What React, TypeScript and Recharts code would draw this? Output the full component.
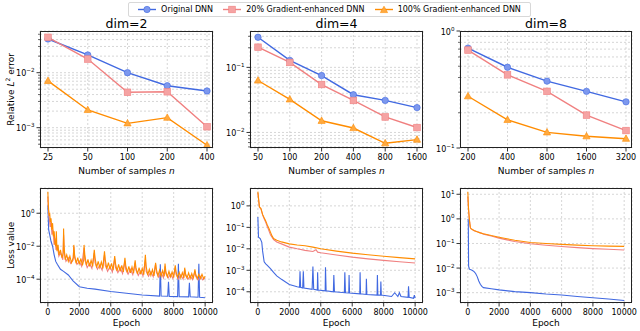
import React from "react";
import { LineChart, Line, XAxis, YAxis, CartesianGrid } from "recharts";

const BLUE = "#4169e1";
const PINK = "#f08080";
const ORANGE = "#ff8c00";
const FONT = "'DejaVu Sans', sans-serif";

// top row: relative L2 error against number of samples
const samplesDim2 = [25, 50, 100, 200, 400];
const origDim2 = [0.041, 0.021, 0.01, 0.0058, 0.00465];
const g20Dim2 = [0.044, 0.0177, 0.0044, 0.0045, 0.00104];
const g100Dim2 = [0.0071, 0.0021, 0.0012, 0.00152, 0.00048];

const samplesDim4 = [50, 100, 200, 400, 800, 1600];
const origDim4 = [0.29, 0.128, 0.0748, 0.038, 0.0311, 0.0241];
const g20Dim4 = [0.204, 0.119, 0.0545, 0.031, 0.0173, 0.0119];
const g100Dim4 = [0.0628, 0.0322, 0.0151, 0.0117, 0.00682, 0.00776];

const samplesDim8 = [200, 400, 800, 1600, 3200];
const origDim8 = [0.714, 0.49, 0.373, 0.305, 0.248];
const g20Dim8 = [0.687, 0.422, 0.305, 0.191, 0.141];
const g100Dim8 = [0.277, 0.174, 0.136, 0.126, 0.12];

// bottom row: loss value against epoch, [epoch, loss]
const lossOrigDim2 = [
  [0, 3], [50, 0.1], [100, 0.06], [200, 0.02], [300, 0.01], [400, 0.003], [500, 0.0012],
  [600, 0.0008], [800, 0.0004], [1000, 0.0003], [1300, 0.00018], [1600, 0.00008],
  [2000, 0.000035], [2500, 0.000028], [3000, 0.000025], [4000, 0.000018], [5000, 0.000014],
  [6000, 0.000011], [7100, 0.0000095], [7150, 0.00081], [7200, 0.0000095], [7620, 0.0000092],
  [7670, 0.00007], [7720, 0.000009], [8250, 0.0000088], [8300, 0.00085], [8350, 0.0000088],
  [8950, 0.0000085], [9000, 0.00006], [9050, 0.0000085], [9550, 0.000008], [9600, 0.00085],
  [9650, 0.000008], [10000, 0.0000075],
];
const lossG20Dim2 = [
  [0, 10], [30, 2], [80, 0.6], [150, 0.15], [200, 0.3], [260, 0.05], [320, 0.1], [400, 0.012],
  [450, 0.03], [520, 0.006], [600, 0.01], [700, 0.0025], [800, 0.004], [950, 0.0015], [1000, 0.05],
  [1050, 0.004], [1150, 0.0012], [1300, 0.002], [1450, 0.0009], [1600, 0.0014], [1650, 0.01],
  [1700, 0.002], [1850, 0.0008], [2000, 0.0012], [2150, 0.0006], [2300, 0.008], [2350, 0.0015],
  [2500, 0.0005], [2650, 0.0009], [2800, 0.00045], [2950, 0.004], [3000, 0.001], [3150, 0.0004],
  [3300, 0.0007], [3450, 0.00035], [3600, 0.003], [3650, 0.0007], [3800, 0.0003], [3950, 0.0006],
  [4100, 0.00027], [4250, 0.0018], [4300, 0.0005], [4450, 0.00025], [4600, 0.0005], [4750, 0.00022],
  [4900, 0.0013], [4950, 0.0004], [5100, 0.0002], [5250, 0.0004], [5400, 0.00019], [5550, 0.001],
  [5600, 0.00035], [5750, 0.00017], [5900, 0.00032], [6050, 0.00016], [6200, 0.0015], [6250, 0.0003],
  [6400, 0.00015], [6550, 0.00028], [6700, 0.00014], [6850, 0.0008], [6900, 0.00026], [7050, 0.00013],
  [7200, 0.00025], [7350, 0.00012], [7450, 0.0006], [7500, 0.00022], [7650, 0.00012], [7800, 0.0002],
  [7950, 0.00011], [8100, 0.0005], [8150, 0.0002], [8300, 0.0001], [8450, 0.00018], [8600, 0.0001],
  [8700, 0.0004], [8750, 0.00017], [8900, 0.0001], [9050, 0.00016], [9200, 0.000095], [9350, 0.0003],
  [9400, 0.00015], [9550, 0.00009], [9700, 0.00015], [9850, 0.00009], [10000, 0.00012],
];
const lossG100Dim2 = [
  [0, 20], [20, 5], [50, 1.5], [80, 0.8], [120, 0.9], [160, 0.3], [200, 0.5], [250, 0.1], [300, 0.25],
  [350, 0.04], [400, 0.08], [450, 0.015], [500, 0.01], [540, 0.08], [580, 0.005], [650, 0.012],
  [700, 0.003], [800, 0.006], [900, 0.002], [980, 0.004], [1000, 0.12], [1030, 0.01], [1100, 0.0015],
  [1200, 0.003], [1300, 0.0012], [1400, 0.0025], [1500, 0.001], [1620, 0.002], [1650, 0.012],
  [1700, 0.003], [1800, 0.0009], [1900, 0.002], [2000, 0.0008], [2100, 0.0018], [2200, 0.0007],
  [2280, 0.0015], [2300, 0.012], [2350, 0.003], [2450, 0.0007], [2550, 0.0016], [2650, 0.0006],
  [2750, 0.0014], [2850, 0.0006], [2950, 0.006], [3000, 0.002], [3100, 0.0005], [3200, 0.0012],
  [3300, 0.0005], [3400, 0.0011], [3500, 0.00045], [3600, 0.005], [3650, 0.0015], [3750, 0.00042],
  [3850, 0.001], [3950, 0.0004], [4050, 0.0009], [4150, 0.00035], [4250, 0.0025], [4300, 0.0009],
  [4400, 0.00032], [4500, 0.0008], [4600, 0.0003], [4700, 0.0007], [4800, 0.00028], [4900, 0.002],
  [4950, 0.0007], [5050, 0.00026], [5150, 0.0006], [5250, 0.00024], [5350, 0.00055], [5450, 0.00023],
  [5550, 0.0014], [5600, 0.0005], [5700, 0.00021], [5800, 0.0005], [5900, 0.0002], [6000, 0.00045],
  [6100, 0.00019], [6200, 0.003], [6250, 0.0006], [6350, 0.00018], [6450, 0.0004], [6550, 0.00017],
  [6650, 0.00038], [6750, 0.00016], [6850, 0.001], [6900, 0.0004], [7000, 0.00016], [7100, 0.00035],
  [7200, 0.00015], [7300, 0.00033], [7400, 0.00015], [7450, 0.0009], [7500, 0.0003], [7600, 0.00014],
  [7700, 0.0003], [7800, 0.00014], [7900, 0.00028], [8000, 0.00013], [8100, 0.0007], [8150, 0.00028],
  [8250, 0.00013], [8350, 0.00026], [8450, 0.00012], [8550, 0.00025], [8650, 0.00012], [8700, 0.0005],
  [8750, 0.00022], [8850, 0.00012], [8950, 0.00024], [9050, 0.00011], [9150, 0.00022], [9250, 0.00011],
  [9350, 0.0004], [9400, 0.0002], [9500, 0.00011], [9600, 0.0002], [9700, 0.00011], [9800, 0.0002],
  [9900, 0.00011], [10000, 0.00015],
];

const lossOrigDim4 = [
  [0, 0.3], [40, 0.035], [150, 0.03], [250, 0.02], [300, 0.008], [400, 0.0025], [500, 0.002],
  [600, 0.0017], [800, 0.0012], [1000, 0.0008], [1200, 0.00055], [1500, 0.00038], [2000, 0.00022],
  [2500, 0.00017], [2650, 0.00016], [2680, 0.0009], [2720, 0.00016], [2850, 0.00015], [2890, 0.0009],
  [2930, 0.00015], [3450, 0.00013], [3500, 0.0015], [3550, 0.00013], [3780, 0.00012], [3800, 0.0008],
  [3830, 0.00012], [4280, 0.00011], [4300, 0.0014], [4340, 0.00011], [4800, 0.0001], [4830, 0.0006],
  [4870, 0.0001], [5500, 0.00009], [5530, 0.0008], [5570, 0.00009], [5780, 0.000088], [5800, 0.0006],
  [5830, 0.000088], [6480, 0.00008], [6500, 0.0008], [6530, 0.00008], [6880, 0.000075], [6900, 0.0004],
  [6930, 0.000075], [7580, 0.00007], [7600, 0.0006], [7630, 0.00007], [7800, 0.00007], [7820, 0.0003],
  [7850, 0.00007], [8500, 0.00006], [8700, 0.00009], [8900, 0.00006], [9000, 0.00009], [9100, 0.00006],
  [9550, 0.000055], [9580, 0.00018], [9620, 0.000055], [9900, 0.00005], [9950, 0.00007], [10000, 0.00005],
];
const lossG20Dim4 = [
  [0, 4], [50, 1.8], [100, 0.85], [200, 0.7], [300, 0.38], [400, 0.25], [500, 0.17], [600, 0.11],
  [700, 0.07], [800, 0.045], [900, 0.035], [1000, 0.027], [1200, 0.021], [1500, 0.017], [2000, 0.012],
  [2500, 0.01], [3000, 0.0085], [3500, 0.0075], [3700, 0.009], [3800, 0.007], [4000, 0.0066],
  [5000, 0.0052], [6000, 0.0041], [7000, 0.0034], [8000, 0.0029], [9000, 0.0025], [10000, 0.0022],
];
const lossG100Dim4 = [
  [0, 4.6], [50, 2], [100, 0.9], [200, 0.75], [300, 0.4], [400, 0.28], [500, 0.2], [600, 0.13],
  [700, 0.09], [800, 0.06], [900, 0.04], [1000, 0.03], [1200, 0.025], [1500, 0.021], [2000, 0.017],
  [2500, 0.015], [3000, 0.014], [3500, 0.012], [4000, 0.01], [5000, 0.0078], [6000, 0.0063],
  [7000, 0.0053], [8000, 0.0045], [9000, 0.0039], [10000, 0.0034],
];

const lossOrigDim8 = [
  [0, 1.0], [30, 0.9], [50, 0.012], [100, 0.009], [200, 0.0085], [300, 0.008], [400, 0.0072],
  [500, 0.006], [600, 0.0045], [700, 0.003], [800, 0.0022], [900, 0.0018], [1000, 0.0016],
  [1500, 0.00145], [2000, 0.0013], [3000, 0.0011], [4000, 0.001], [5000, 0.00088], [6000, 0.0008],
  [7000, 0.0007], [8000, 0.00062], [9000, 0.00055], [10000, 0.00048],
];
const lossG20Dim8 = [
  [0, 8], [40, 2.5], [80, 1.2], [120, 0.7], [160, 0.45], [200, 0.4], [400, 0.33], [600, 0.3],
  [800, 0.27], [1000, 0.24], [1500, 0.2], [2000, 0.165], [2500, 0.14], [3000, 0.12], [4000, 0.098],
  [5000, 0.085], [6000, 0.075], [7000, 0.068], [8000, 0.062], [9000, 0.058], [10000, 0.054],
];
const lossG100Dim8 = [
  [0, 12.6], [40, 3], [80, 1.4], [120, 0.7], [160, 0.45], [200, 0.4], [400, 0.34], [600, 0.3],
  [800, 0.27], [1000, 0.25], [1500, 0.21], [2000, 0.18], [2500, 0.155], [3000, 0.135], [4000, 0.11],
  [5000, 0.1], [6000, 0.092], [7000, 0.086], [8000, 0.081], [9000, 0.078], [10000, 0.076],
];

const epochTicks = [0, 2000, 4000, 6000, 8000, 10000];

const toRows = (n: number[], a: number[], b: number[], c: number[]) =>
  n.map((v, i) => ({ n: String(v), orig: a[i], g20: b[i], g100: c[i] }));
const toPts = (arr: number[][]) => arr.map(([e, v]) => ({ e, v }));

const decadeTicks = (lo: number, hi: number, minor: boolean) => {
  const out: number[] = [];
  for (let k = Math.floor(Math.log10(lo)); k <= Math.ceil(Math.log10(hi)); k++) {
    const steps = minor ? [1, 2, 3, 4, 5, 6, 7, 8, 9] : [1];
    steps.forEach((m) => {
      const v = +(m * Math.pow(10, k)).toPrecision(3);
      if (v >= lo * 0.999 && v <= hi * 1.001) out.push(v);
    });
  }
  return out;
};

function LogTick(props: any) {
  const { x, y, payload } = props;
  const lg = Math.log10(payload.value);
  const e = Math.round(lg);
  const major = Math.abs(lg - e) < 1e-6;
  const ax = x + 5.5;
  return (
    <g>
      <line x1={ax - (major ? 3.5 : 2)} x2={ax} y1={y} y2={y} stroke="#000" strokeWidth={major ? 0.8 : 0.6} />
      {major && (
        <text x={x} y={y + 3.5} textAnchor="end" fontSize={8} fill="#000" fontFamily={FONT}>
          10
          <tspan dy={-4} fontSize={5.6}>{e < 0 ? `\u2212${-e}` : `${e}`}</tspan>
        </text>
      )}
    </g>
  );
}

const circleDot = (p: any) => (
  <circle key={`c${p.index}`} cx={p.cx} cy={p.cy} r={3.2} fill="#7d98ee" stroke={BLUE} strokeWidth={0.6} />
);
const squareDot = (p: any) => (
  <rect key={`s${p.index}`} x={p.cx - 3.3} y={p.cy - 3.3} width={6.6} height={6.6} fill="#f5a3a3" stroke={PINK} strokeWidth={0.6} />
);
const triDot = (p: any) => (
  <path key={`t${p.index}`} d={`M${p.cx},${p.cy - 3.8}L${p.cx + 3.6},${p.cy + 2.6}L${p.cx - 3.6},${p.cy + 2.6}Z`} fill="#ffaa40" stroke={ORANGE} strokeWidth={0.6} />
);

const YW = 40;
const MT = 4;
const MR = 6;
const XH = 24;

function Frame({ w, h }: { w: number; h: number }) {
  return (
    <div
      style={{
        position: "absolute", left: YW, top: MT, width: w, height: h,
        border: "1px solid #222", boxSizing: "border-box", pointerEvents: "none",
      }}
    />
  );
}

function ErrorPanel({ x, y, w, h, rows, domain, ticks }: any) {
  return (
    <div style={{ position: "absolute", left: x - YW, top: y - MT }}>
      <LineChart width={w + YW + MR} height={h + MT + XH} data={rows} margin={{ top: MT, right: MR, bottom: 0, left: 0 }}>
        <CartesianGrid stroke="#c4c4c4" strokeDasharray="2 2" strokeWidth={0.7} />
        <XAxis
          dataKey="n" type="category" padding={{ left: 8, right: 6 }} height={XH} interval={0}
          tick={{ fontSize: 8, fill: "#000", fontFamily: FONT }} tickLine={{ stroke: "#000", strokeWidth: 0.8 }}
          tickSize={3.5} tickMargin={3} axisLine={false}
        />
        <YAxis
          type="number" scale="log" domain={domain} allowDataOverflow ticks={ticks} width={YW} interval={0}
          tick={<LogTick />} tickSize={3.5} tickMargin={2} tickLine={false} axisLine={false}
        />
        <Line dataKey="orig" stroke={BLUE} strokeWidth={1.4} dot={circleDot} isAnimationActive={false} />
        <Line dataKey="g20" stroke={PINK} strokeWidth={1.4} dot={squareDot} isAnimationActive={false} />
        <Line dataKey="g100" stroke={ORANGE} strokeWidth={1.4} dot={triDot} isAnimationActive={false} />
      </LineChart>
      <Frame w={w} h={h} />
    </div>
  );
}

function LossPanel({ x, y, w, h, orig, g20, g100, domain, ticks }: any) {
  return (
    <div style={{ position: "absolute", left: x - YW, top: y - MT }}>
      <LineChart width={w + YW + MR} height={h + MT + XH} margin={{ top: MT, right: MR, bottom: 0, left: 0 }}>
        <CartesianGrid stroke="#c4c4c4" strokeDasharray="2 2" strokeWidth={0.7} />
        <XAxis
          dataKey="e" type="number" domain={[-500, 10500]} allowDataOverflow ticks={epochTicks} height={XH} interval={0}
          tick={{ fontSize: 8, fill: "#000", fontFamily: FONT }} tickLine={{ stroke: "#000", strokeWidth: 0.8 }}
          tickSize={3.5} tickMargin={3} axisLine={false}
        />
        <YAxis
          type="number" scale="log" domain={domain} allowDataOverflow ticks={ticks} width={YW} interval={0}
          tick={<LogTick />} tickSize={3.5} tickMargin={2} tickLine={false} axisLine={false}
        />
        <Line data={toPts(orig)} dataKey="v" stroke={BLUE} strokeWidth={1.1} dot={false} isAnimationActive={false} />
        <Line data={toPts(g20)} dataKey="v" stroke={PINK} strokeWidth={1.1} dot={false} isAnimationActive={false} />
        <Line data={toPts(g100)} dataKey="v" stroke={ORANGE} strokeWidth={1.1} dot={false} isAnimationActive={false} />
      </LineChart>
      <Frame w={w} h={h} />
    </div>
  );
}

function Caption({ cx, cy, size, children }: any) {
  return (
    <div
      style={{
        position: "absolute", left: cx - 100, top: cy - size * 0.6, width: 200, textAlign: "center",
        fontSize: size, lineHeight: `${size * 1.2}px`, whiteSpace: "nowrap",
      }}
    >
      {children}
    </div>
  );
}

function VCaption({ cx, cy, size, children }: any) {
  return (
    <div
      style={{
        position: "absolute", left: cx - 100, top: cy - size * 0.6, width: 200, textAlign: "center",
        fontSize: size, lineHeight: `${size * 1.2}px`, whiteSpace: "nowrap", transform: "rotate(-90deg)",
      }}
    >
      {children}
    </div>
  );
}

function LegendIcon({ color, marker }: { color: string; marker: string }) {
  return (
    <svg width={18} height={9} style={{ marginRight: 5 }}>
      <line x1={0} x2={18} y1={4.5} y2={4.5} stroke={color} strokeWidth={1.4} />
      {marker === "c" && circleDot({ cx: 9, cy: 4.5, index: 0 })}
      {marker === "s" && squareDot({ cx: 9, cy: 4.5, index: 0 })}
      {marker === "t" && triDot({ cx: 9, cy: 5, index: 0 })}
    </svg>
  );
}

const legendItems = [
  { label: "Original DNN", color: BLUE, marker: "c" },
  { label: "20% Gradient-enhanced DNN", color: PINK, marker: "s" },
  { label: "100% Gradient-enhanced DNN", color: ORANGE, marker: "t" },
];

const cols = [
  { x: 40, w: 173 },
  { x: 250, w: 173 },
  { x: 460, w: 172 },
];
const TOP_Y = 31;
const TOP_H = 117;
const BOT_Y = 188;
const BOT_H = 115;

export default function App() {
  const samplesLabel = (
    <span>
      Number of samples <i>n</i>
    </span>
  );
  return (
    <div style={{ position: "absolute", left: 0, top: 0, width: 640, height: 331, background: "#fff", fontFamily: FONT, color: "#000" }}>
      <div
        style={{
          position: "absolute", left: 128, top: 2, width: 403, height: 15, boxSizing: "border-box",
          border: "1px solid #d8d8d8", borderRadius: 2, display: "flex", alignItems: "center",
          justifyContent: "space-around", fontSize: 8, padding: "0 4px",
        }}
      >
        {legendItems.map((it) => (
          <div key={it.label} style={{ display: "flex", alignItems: "center" }}>
            <LegendIcon color={it.color} marker={it.marker} />
            <span>{it.label}</span>
          </div>
        ))}
      </div>

      {["dim=2", "dim=4", "dim=8"].map((t, i) => (
        <Caption key={t} cx={cols[i].x + cols[i].w / 2} cy={23} size={12.5}>{t}</Caption>
      ))}

      <ErrorPanel x={cols[0].x} y={TOP_Y} w={cols[0].w} h={TOP_H} rows={toRows(samplesDim2, origDim2, g20Dim2, g100Dim2)}
        domain={[0.000427, 0.0573]} ticks={decadeTicks(0.000427, 0.0573, true)} />
      <ErrorPanel x={cols[1].x} y={TOP_Y} w={cols[1].w} h={TOP_H} rows={toRows(samplesDim4, origDim4, g20Dim4, g100Dim4)}
        domain={[0.00577, 0.362]} ticks={decadeTicks(0.00577, 0.362, true)} />
      <ErrorPanel x={cols[2].x} y={TOP_Y} w={cols[2].w} h={TOP_H} rows={toRows(samplesDim8, origDim8, g20Dim8, g100Dim8)}
        domain={[0.1, 1]} ticks={decadeTicks(0.1, 1, true)} />

      <LossPanel x={cols[0].x} y={BOT_Y} w={cols[0].w} h={BOT_H} orig={lossOrigDim2} g20={lossG20Dim2} g100={lossG100Dim2}
        domain={[3.6e-6, 34]} ticks={[1, 1e-2, 1e-4]} />
      <LossPanel x={cols[1].x} y={BOT_Y} w={cols[1].w} h={BOT_H} orig={lossOrigDim4} g20={lossG20Dim4} g100={lossG100Dim4}
        domain={[3.0e-5, 6.8]} ticks={decadeTicks(3.0e-5, 6.8, false)} />
      <LossPanel x={cols[2].x} y={BOT_Y} w={cols[2].w} h={BOT_H} orig={lossOrigDim8} g20={lossG20Dim8} g100={lossG100Dim8}
        domain={[3.8e-4, 18]} ticks={decadeTicks(3.8e-4, 18, false)} />

      {cols.map((c, i) => (
        <Caption key={`ns${i}`} cx={c.x + c.w / 2} cy={171} size={9}>{samplesLabel}</Caption>
      ))}
      {cols.map((c, i) => (
        <Caption key={`ep${i}`} cx={c.x + c.w / 2} cy={323} size={9}>Epoch</Caption>
      ))}
      <VCaption cx={11} cy={TOP_Y + TOP_H / 2} size={9}>
        Relative <i>L</i>
        <sup style={{ fontSize: 6, lineHeight: 0 }}>2</sup> error
      </VCaption>
      <VCaption cx={11} cy={BOT_Y + BOT_H / 2} size={9}>Loss value</VCaption>
    </div>
  );
}
